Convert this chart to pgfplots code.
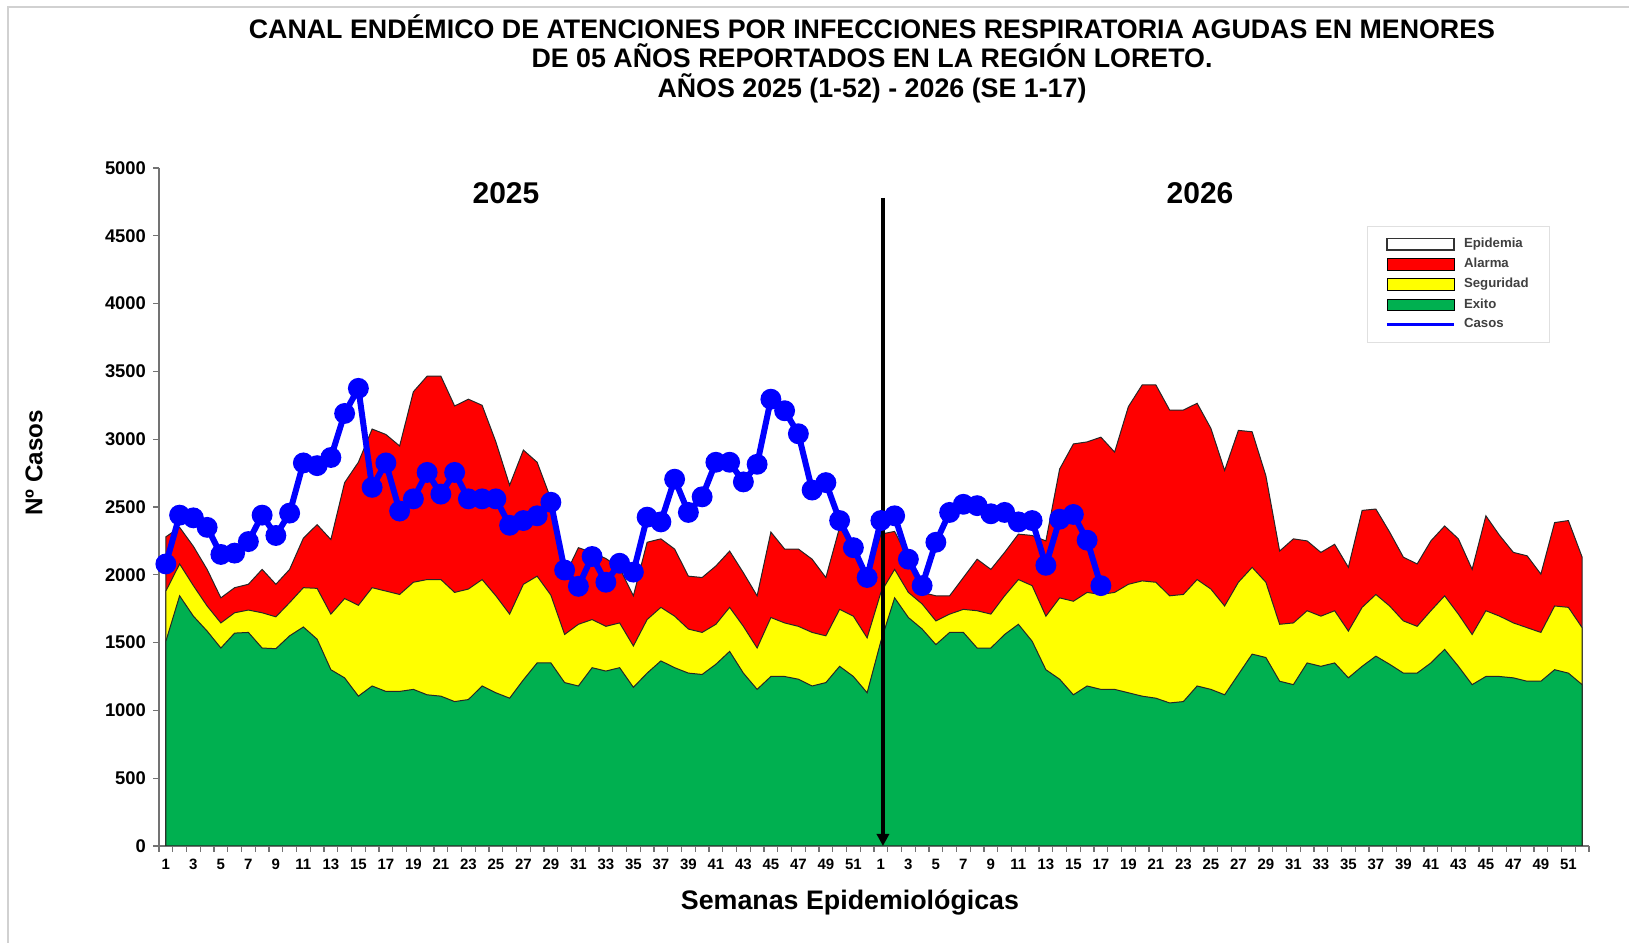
\documentclass[border=0pt]{standalone}
\usepackage{fontspec}
\setmainfont{Liberation Sans}
\usepackage{pgfplots}
\pgfplotsset{compat=1.18}
\usepackage{pgfplotstable}
\usetikzlibrary{arrows.meta}

\definecolor{exito}{RGB}{0,176,80}
\definecolor{segur}{RGB}{255,255,0}
\definecolor{alarma}{RGB}{255,0,0}
\definecolor{casos}{RGB}{0,0,255}

% semana (1-52 = 2025, 53-104 = 2026), techo de exito, seguridad y alarma
\pgfplotstableread{
i ex se al
1 1510 1880 2280
2 1845 2080 2350
3 1695 1920 2210
4 1585 1770 2040
5 1460 1645 1830
6 1570 1720 1905
7 1575 1740 1930
8 1460 1720 2040
9 1455 1690 1930
10 1550 1795 2040
11 1615 1905 2270
12 1525 1900 2370
13 1300 1710 2260
14 1240 1825 2680
15 1105 1775 2830
16 1180 1905 3075
17 1140 1880 3035
18 1140 1855 2950
19 1155 1945 3350
20 1115 1965 3465
21 1105 1965 3465
22 1065 1870 3245
23 1080 1895 3295
24 1180 1965 3250
25 1130 1845 2980
26 1090 1710 2660
27 1225 1930 2920
28 1350 1990 2830
29 1350 1850 2560
30 1205 1560 1990
31 1180 1635 2200
32 1315 1670 2165
33 1290 1620 2120
34 1315 1645 2050
35 1170 1475 1845
36 1275 1670 2240
37 1365 1760 2265
38 1315 1695 2190
39 1275 1600 1990
40 1265 1575 1980
41 1340 1635 2065
42 1435 1760 2175
43 1275 1620 2015
44 1155 1460 1845
45 1250 1685 2315
46 1250 1645 2190
47 1230 1620 2190
48 1180 1575 2115
49 1205 1550 1980
50 1325 1745 2350
51 1250 1695 2200
52 1130 1535 1970
53 1510 1870 2300
54 1830 2040 2320
55 1685 1870 2120
56 1600 1785 1870
57 1485 1660 1845
58 1575 1710 1845
59 1575 1745 1980
60 1460 1735 2115
61 1460 1710 2040
62 1560 1845 2165
63 1635 1965 2300
64 1510 1920 2290
65 1300 1695 2250
66 1230 1830 2780
67 1115 1805 2965
68 1180 1870 2980
69 1155 1855 3015
70 1155 1870 2905
71 1130 1930 3240
72 1105 1955 3400
73 1090 1945 3400
74 1055 1845 3215
75 1065 1855 3215
76 1180 1965 3265
77 1155 1895 3080
78 1115 1770 2770
79 1265 1945 3065
80 1415 2055 3055
81 1390 1945 2730
82 1215 1635 2175
83 1190 1645 2265
84 1350 1735 2250
85 1325 1695 2165
86 1350 1735 2225
87 1240 1585 2055
88 1325 1760 2475
89 1400 1855 2485
90 1340 1770 2315
91 1275 1660 2130
92 1275 1620 2080
93 1350 1735 2250
94 1450 1845 2360
95 1325 1710 2265
96 1190 1560 2040
97 1250 1735 2435
98 1250 1695 2290
99 1240 1645 2165
100 1215 1610 2140
101 1215 1575 2005
102 1300 1770 2385
103 1275 1760 2400
104 1190 1610 2130
}\canal

\pgfplotstableread{
i c
1 2080
2 2440
3 2420
4 2350
5 2150
6 2160
7 2245
8 2440
9 2290
10 2455
11 2825
12 2805
13 2865
14 3190
15 3375
16 2645
17 2825
18 2470
19 2560
20 2755
21 2595
22 2755
23 2560
24 2560
25 2560
26 2365
27 2400
28 2435
29 2535
30 2035
31 1915
32 2135
33 1945
34 2085
35 2020
36 2425
37 2390
38 2705
39 2460
40 2575
41 2830
42 2830
43 2685
44 2815
45 3295
46 3210
47 3040
48 2625
49 2680
50 2400
51 2200
52 1980
53 2400
54 2435
55 2115
56 1920
57 2240
58 2460
59 2520
60 2510
61 2450
62 2460
63 2390
64 2400
65 2070
66 2410
67 2445
68 2255
69 1920
}\casos

\begin{document}
\begin{tikzpicture}[x=1pt,y=1pt]
\useasboundingbox (0,0) rectangle (814.5,471.5);
\draw[black!18, line width=0.7pt] (4,0) -- (4,468) -- (814.5,468);

\node[anchor=base, font=\bfseries\fontsize{13.4}{15}\selectfont] at (436,452.25)
  {CANAL ENDÉMICO DE ATENCIONES POR INFECCIONES RESPIRATORIA AGUDAS EN MENORES};
\node[anchor=base, font=\bfseries\fontsize{13.4}{15}\selectfont] at (436,437.5)
  {DE 05 AÑOS REPORTADOS EN LA REGIÓN LORETO.};
\node[anchor=base, font=\bfseries\fontsize{13.4}{15}\selectfont] at (436,422.75)
  {AÑOS 2025 (1-52) - 2026 (SE 1-17)};

\begin{axis}[
  at={(79.5pt,48.5pt)}, anchor=south west,
  scale only axis, width=715pt, height=339pt,
  xmin=0.5, xmax=104.5, ymin=0, ymax=5000,
  axis x line*=bottom, axis y line*=left,
  axis line style={black!55, line width=0.8pt},
  tick align=outside,
  major tick length=3pt, minor tick length=3pt,
  tick style={black!55, line width=0.6pt},
  xtick={1,3,...,103},
  major x tick style={draw=none},
  minor xtick={0.5,1.5,...,104.5},
  xticklabel={\pgfmathtruncatemacro\w{mod(\tick-1,52)+1}\w},
  ytick={0,500,...,5000},
  scaled y ticks=false,
  /pgf/number format/assume math mode=true,
  /pgf/number format/set thousands separator={},
  tick label style={font=\bfseries\fontsize{7.5}{9}\selectfont},
  yticklabel style={font=\bfseries\fontsize{9.2}{11}\selectfont},
  legend style={at={(rel axis cs:0.8448,0.9145)}, anchor=north west,
    draw=black!12, fill=white, font=\bfseries\fontsize{6.6}{8}\selectfont,
    inner xsep=9pt, inner ysep=4.5pt, row sep=1.2pt,
    nodes={inner sep=1.3pt, text=black!75},
    /tikz/every odd column/.append style={column sep=3pt}},
  legend cell align=left,
  legend image code/.code={\draw[#1] (0pt,-2.85pt) rectangle (33.5pt,2.85pt);},
]
\addplot[fill=alarma, draw=black!85, line width=0.5pt, forget plot]
  table[x=i, y=al]{\canal} \closedcycle;
\addplot[fill=segur, draw=black!85, line width=0.5pt, forget plot]
  table[x=i, y=se]{\canal} \closedcycle;
\addplot[fill=exito, draw=black!85, line width=0.5pt, forget plot]
  table[x=i, y=ex]{\canal} \closedcycle;
\addplot[casos, line width=3pt, mark=*, mark size=3.7pt, forget plot]
  table[x=i, y=c]{\casos};

\draw[-{Triangle[length=6pt,width=6pt]}, line width=1.6pt]
  (axis cs:53.15,4780) -- (axis cs:53.15,0);

\addlegendimage{fill=white, draw=black!80, line width=0.6pt}
\addlegendimage{fill=alarma, draw=none}
\addlegendimage{fill=segur, draw=none}
\addlegendimage{fill=exito, draw=none}
\addlegendimage{legend image code/.code={\draw[casos, line width=1.5pt] (0pt,0pt) -- (33.5pt,0pt);}}
\legend{Epidemia, Alarma, Seguridad, Exito, Casos}
\end{axis}

\node[anchor=base, font=\bfseries\fontsize{15}{17}\selectfont] at (253,369.7) {2025};
\node[anchor=base, font=\bfseries\fontsize{15}{17}\selectfont] at (600,369.7) {2026};
\node[rotate=90, font=\bfseries\fontsize{12.1}{14}\selectfont] at (17,240) {Nº Casos};
\node[anchor=base, font=\bfseries\fontsize{13.4}{15}\selectfont] at (425,16.5) {Semanas Epidemiológicas};
\end{tikzpicture}
\end{document}
